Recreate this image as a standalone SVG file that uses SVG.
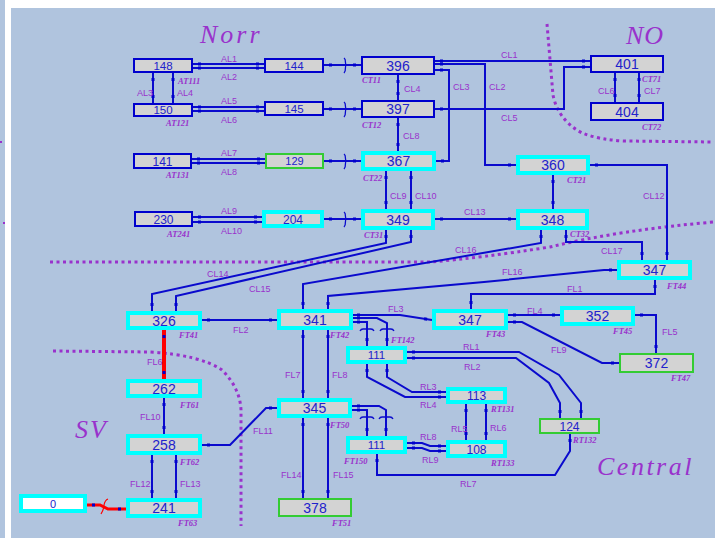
<svg xmlns="http://www.w3.org/2000/svg" width="726" height="538" viewBox="0 0 726 538">
<style>
.ln{fill:none;stroke:#0a0acd;stroke-width:2;marker-start:url(#m);marker-end:url(#m)}
.red{fill:none;stroke:#ff0000;stroke-width:4;marker-start:url(#m);marker-end:url(#m)}
.sw{fill:none;stroke:#0a0acd;stroke-width:1.3}
.nb{fill:#d3d3d3;stroke:#0000cd;stroke-width:2}
.nc{fill:#d3d3d3;stroke:#00ffff;stroke-width:4}
.ng{fill:#d3d3d3;stroke:#33cc33;stroke-width:2}
.t{font-family:"Liberation Sans",Arial,sans-serif;fill:#2222cc;text-anchor:middle}
.lb{font-family:"Liberation Sans",Arial,sans-serif;font-size:9px;fill:#9932cc}
.tag{font-family:"Liberation Serif","Times New Roman",serif;font-size:8.5px;font-weight:bold;font-style:italic;fill:#9932cc}
.reg{font-family:"Liberation Serif","Times New Roman",serif;font-size:26px;font-style:italic;fill:#9932cc}
.dot{fill:none;stroke:#9932cc;stroke-width:3;stroke-dasharray:3 3.5}
</style>
<defs>
<marker id="m" markerUnits="userSpaceOnUse" viewBox="0 0 12 4" markerWidth="12" markerHeight="4" refX="12" refY="2" orient="auto-start-reverse"><rect x="4" y="0.5" width="3" height="3" fill="#0000cd"/></marker>
</defs>
<rect x="0" y="0" width="726" height="538" fill="#ffffff"/>
<rect x="0" y="0" width="5" height="538" fill="#b0c4de"/>
<rect x="11" y="8" width="704" height="530" fill="#b0c4de"/>
<rect x="0" y="141" width="2" height="2" fill="#9932cc"/>
<rect x="3" y="222" width="2" height="2" fill="#9932cc"/>

<g id="regions">
<path class="dot" d="M547,24 L553,95 Q558,120 582,133 Q600,140 625,141 L714,142"/>
<path class="dot" d="M50,262 L430,262 Q480,258 550,247 Q620,230 714,222"/>
<path class="dot" d="M53,351 L150,352 Q200,355 222,370 Q240,388 241,410 L241,526"/>
<text class="reg" x="200" y="43" letter-spacing="3">Norr</text>
<text class="reg" x="626" y="44" letter-spacing="1">NO</text>
<text class="reg" x="75" y="438" letter-spacing="2">SV</text>
<text class="reg" x="597" y="475" letter-spacing="2.5">Central</text>
</g>

<g id="connectors">
<path class="ln" d="M193,64 H264"/>
<path class="ln" d="M193,68 H264"/>
<path class="ln" d="M153,73 V103"/>
<path class="ln" d="M173,73 V103"/>
<path class="ln" d="M193,107 H264"/>
<path class="ln" d="M193,111 H264"/>
<path class="ln" d="M192,159 H265"/>
<path class="ln" d="M192,163 H265"/>
<path class="ln" d="M193,217 H262"/>
<path class="ln" d="M193,222 H262"/>
<path class="ln" d="M324,65 H361"/>
<path class="ln" d="M324,109 H361"/>
<path class="ln" d="M324,161 H361"/>
<path class="ln" d="M324,219 H361"/>
<path class="sw" d="M344,58 C347,60 344,64 346.5,65 C344,66 347,70 344,73"/>
<path class="sw" d="M344,102 C347,104 344,108 346.5,109 C344,110 347,114 344,117"/>
<path class="sw" d="M344,154 C347,156 344,160 346.5,161 C344,162 347,166 344,169"/>
<path class="sw" d="M344,212 C347,214 344,218 346.5,219 C344,220 347,224 344,227"/>
<path class="ln" d="M435,61 H590"/>
<path class="ln" d="M435,64 H485 V165 H516"/>
<path class="ln" d="M435,70 H449 V161 H436"/>
<path class="ln" d="M398,75 V100"/>
<path class="ln" d="M435,109 H564 V67 H590"/>
<path class="ln" d="M615,73 V102"/>
<path class="ln" d="M639,73 V102"/>
<path class="ln" d="M398,118 V151"/>
<path class="ln" d="M386,171 V209"/>
<path class="ln" d="M411,171 V209"/>
<path class="ln" d="M435,219 H516"/>
<path class="ln" d="M553,175 V209"/>
<path class="ln" d="M590,165 H667 V260"/>
<path class="ln" d="M566,230 V242 H642 V260"/>
<path class="ln" d="M541,230 V243 L303,284 V310"/>
<path class="ln" d="M386,230 V243 L152,294 V311"/>
<path class="ln" d="M411,230 V242 L176,296 V311"/>
<path class="ln" d="M617,270 H604 L484,282 L328,296 V310"/>
<path class="ln" d="M655,280 V294 H471 V309"/>
<path class="ln" d="M202,320 H277"/>
<path class="ln" d="M352,315 H400 L432,320"/>
<path class="ln" d="M352,318 H377 L387,323 V346"/>
<path class="ln" d="M352,322 H367 V346"/>
<path class="sw" d="M360,331 Q361,329 363,329 L371,329 Q373,329 374,331"/>
<path class="sw" d="M380,331 Q381,329 383,329 L391,329 Q393,329 394,331"/>
<path class="ln" d="M407,352 H519 L559,375 L581,403 V418"/>
<path class="ln" d="M407,358 H516 L549,383 L560,403 V418"/>
<path class="ln" d="M367,364 V377 L405,397 H446"/>
<path class="ln" d="M387,364 V377 L412,392 H446"/>
<path class="ln" d="M466,404 V440"/>
<path class="ln" d="M486,404 V440"/>
<path class="ln" d="M303,330 V398"/>
<path class="ln" d="M328,330 V398"/>
<path class="ln" d="M352,406 H379 L386,410 V436"/>
<path class="ln" d="M352,410 H367 V436"/>
<path class="sw" d="M360,419 Q361,417 363,417 L371,417 Q373,417 374,419"/>
<path class="sw" d="M379,419 Q380,417 382,417 L390,417 Q392,417 393,419"/>
<path class="ln" d="M407,443 H422 L430,446 H446"/>
<path class="ln" d="M407,448 H422 L430,451 H446"/>
<path class="ln" d="M377,454 V475 H555 L570,451 V434"/>
<path class="ln" d="M303,418 V498"/>
<path class="ln" d="M328,418 V498"/>
<path class="ln" d="M277,408 H266 L230,445 H202"/>
<path class="red" d="M164,330 V379"/>
<path class="ln" d="M164,398 V434"/>
<path class="ln" d="M152,455 V498"/>
<path class="ln" d="M176,455 V498"/>
<path class="ln" d="M508,315 H560"/>
<path class="ln" d="M508,322 H522 L602,363 H619"/>
<path class="ln" d="M635,315 H656 V353"/>
<path fill="none" stroke="#ff0000" stroke-width="3" d="M87,505 H100 L108,509 H126"/>
<path fill="none" stroke="#ff0000" stroke-width="1.2" d="M101,514 Q104,509 104,505 Q105,500 108,499"/>
<rect x="92" y="503.5" width="3" height="3" fill="#0000cd"/>
<rect x="118" y="507.5" width="3" height="3" fill="#0000cd"/>
</g>

<g id="labels">
<text class="lb" x="221" y="62">AL1</text>
<text class="lb" x="221" y="80">AL2</text>
<text class="lb" x="137" y="96">AL3</text>
<text class="lb" x="177" y="96">AL4</text>
<text class="lb" x="221" y="104">AL5</text>
<text class="lb" x="221" y="123">AL6</text>
<text class="lb" x="221" y="156">AL7</text>
<text class="lb" x="221" y="175">AL8</text>
<text class="lb" x="221" y="214">AL9</text>
<text class="lb" x="221" y="234">AL10</text>
<text class="lb" x="501" y="58">CL1</text>
<text class="lb" x="489" y="90">CL2</text>
<text class="lb" x="453" y="90">CL3</text>
<text class="lb" x="404" y="92">CL4</text>
<text class="lb" x="501" y="121">CL5</text>
<text class="lb" x="598" y="94">CL6</text>
<text class="lb" x="644" y="94">CL7</text>
<text class="lb" x="403" y="139">CL8</text>
<text class="lb" x="390" y="199">CL9</text>
<text class="lb" x="415" y="199">CL10</text>
<text class="lb" x="643" y="199">CL12</text>
<text class="lb" x="464" y="215">CL13</text>
<text class="lb" x="207" y="277">CL14</text>
<text class="lb" x="249" y="292">CL15</text>
<text class="lb" x="455" y="253">CL16</text>
<text class="lb" x="601" y="254">CL17</text>
<text class="lb" x="502" y="275">FL16</text>
<text class="lb" x="567" y="292">FL1</text>
<text class="lb" x="233" y="333">FL2</text>
<text class="lb" x="388" y="312">FL3</text>
<text class="lb" x="527" y="314">FL4</text>
<text class="lb" x="662" y="335">FL5</text>
<text class="lb" x="147" y="365">FL6</text>
<text class="lb" x="285" y="378">FL7</text>
<text class="lb" x="332" y="378">FL8</text>
<text class="lb" x="551" y="353">FL9</text>
<text class="lb" x="140" y="420">FL10</text>
<text class="lb" x="253" y="434">FL11</text>
<text class="lb" x="130" y="487">FL12</text>
<text class="lb" x="180" y="487">FL13</text>
<text class="lb" x="281" y="478">FL14</text>
<text class="lb" x="333" y="478">FL15</text>
<text class="lb" x="463" y="350">RL1</text>
<text class="lb" x="464" y="370">RL2</text>
<text class="lb" x="420" y="390">RL3</text>
<text class="lb" x="420" y="408">RL4</text>
<text class="lb" x="451" y="432">RL5</text>
<text class="lb" x="490" y="431">RL6</text>
<text class="lb" x="460" y="487">RL7</text>
<text class="lb" x="420" y="440">RL8</text>
<text class="lb" x="422" y="463">RL9</text>
</g>

<g id="n148"><rect class="nb" x="134" y="59" width="58" height="13"/><text class="t" x="163" y="69.5" font-size="11.5">148</text><text class="tag" x="178" y="84">AT111</text></g>
<g id="n150"><rect class="nb" x="134" y="104" width="58" height="12"/><text class="t" x="163" y="114" font-size="11.5">150</text><text class="tag" x="166" y="126">AT121</text></g>
<g id="n144"><rect class="nb" x="265" y="59" width="58" height="13"/><text class="t" x="294" y="69.5" font-size="11.5">144</text></g>
<g id="n145"><rect class="nb" x="265" y="102" width="58" height="13"/><text class="t" x="294" y="112.5" font-size="11.5">145</text></g>
<g id="n396"><rect class="nb" x="362" y="57" width="72" height="17"/><text class="t" x="398" y="70.5" font-size="14">396</text><text class="tag" x="362" y="83">CT11</text></g>
<g id="n397"><rect class="nb" x="362" y="101" width="72" height="16"/><text class="t" x="398" y="114" font-size="14">397</text><text class="tag" x="362" y="128">CT12</text></g>
<g id="n401"><rect class="nb" x="591" y="56" width="72" height="16"/><text class="t" x="627" y="69" font-size="14">401</text><text class="tag" x="642" y="82">CT71</text></g>
<g id="n404"><rect class="nb" x="591" y="103" width="72" height="17"/><text class="t" x="627" y="116.5" font-size="14">404</text><text class="tag" x="642" y="130">CT72</text></g>
<g id="n141"><rect class="nb" x="134" y="154" width="57" height="14"/><text class="t" x="162.5" y="165.5" font-size="12">141</text><text class="tag" x="166" y="178">AT131</text></g>
<g id="n230"><rect class="nb" x="135" y="212" width="57" height="14"/><text class="t" x="163.5" y="223.5" font-size="12">230</text><text class="tag" x="167" y="237">AT241</text></g>
<g id="n129"><rect class="ng" x="266" y="154" width="57" height="14"/><text class="t" x="294.5" y="165" font-size="11">129</text></g>
<g id="n367"><rect class="nc" x="363" y="153" width="71" height="16"/><text class="t" x="398.5" y="166" font-size="14">367</text><text class="tag" x="363" y="181">CT22</text></g>
<g id="n204"><rect class="nc" x="264" y="212" width="58" height="14"/><text class="t" x="293" y="223.5" font-size="12">204</text></g>
<g id="n349"><rect class="nc" x="363" y="211" width="70" height="17"/><text class="t" x="398" y="224.5" font-size="14">349</text><text class="tag" x="364" y="238">CT31</text></g>
<g id="n360"><rect class="nc" x="518" y="157" width="70" height="16"/><text class="t" x="553" y="170" font-size="14">360</text><text class="tag" x="567" y="183">CT21</text></g>
<g id="n348"><rect class="nc" x="518" y="211" width="69" height="17"/><text class="t" x="552.5" y="224.5" font-size="14">348</text><text class="tag" x="570" y="237">CT32</text></g>
<g id="n347a"><rect class="nc" x="619" y="262" width="71" height="16"/><text class="t" x="654.5" y="275" font-size="14">347</text><text class="tag" x="667" y="289">FT44</text></g>
<g id="n326"><rect class="nc" x="128" y="313" width="72" height="15"/><text class="t" x="164" y="325.5" font-size="14">326</text><text class="tag" x="179" y="338">FT41</text></g>
<g id="n262"><rect class="nc" x="128" y="381" width="72" height="15"/><text class="t" x="164" y="393.5" font-size="14">262</text><text class="tag" x="180" y="408">FT61</text></g>
<g id="n341"><rect class="nc" x="279" y="311" width="72" height="17"/><text class="t" x="315" y="324.5" font-size="14">341</text><text class="tag" x="330" y="338">FT42</text></g>
<g id="n347b"><rect class="nc" x="434" y="311" width="72" height="17"/><text class="t" x="470" y="324.5" font-size="14">347</text><text class="tag" x="486" y="337">FT43</text></g>
<g id="n352"><rect class="nc" x="562" y="308" width="71" height="16"/><text class="t" x="597.5" y="321" font-size="14">352</text><text class="tag" x="613" y="334">FT45</text></g>
<g id="n372"><rect class="ng" x="620" y="354" width="73" height="18"/><text class="t" x="656.5" y="368" font-size="14">372</text><text class="tag" x="671" y="381">FT47</text></g>
<g id="n111a"><rect class="nc" x="348" y="348" width="57" height="14"/><text class="t" x="376.5" y="359" font-size="11.5">111</text><text class="tag" x="391" y="343">FT142</text></g>
<g id="n113"><rect class="nc" x="448" y="389" width="57" height="13"/><text class="t" x="476.5" y="400" font-size="12">113</text><text class="tag" x="491" y="412">RT131</text></g>
<g id="n345"><rect class="nc" x="279" y="400" width="71" height="16"/><text class="t" x="314.5" y="413" font-size="14">345</text><text class="tag" x="330" y="428">FT50</text></g>
<g id="n111b"><rect class="nc" x="348" y="438" width="57" height="14"/><text class="t" x="376.5" y="449" font-size="11.5">111</text><text class="tag" x="344" y="464">FT150</text></g>
<g id="n108"><rect class="nc" x="448" y="442" width="57" height="14"/><text class="t" x="476.5" y="453.5" font-size="12">108</text><text class="tag" x="491" y="466">RT133</text></g>
<g id="n124"><rect class="ng" x="540" y="419" width="59" height="14"/><text class="t" x="569.5" y="430.5" font-size="12">124</text><text class="tag" x="573" y="443">RT132</text></g>
<g id="n258"><rect class="nc" x="128" y="436" width="72" height="17"/><text class="t" x="164" y="449.5" font-size="14">258</text><text class="tag" x="180" y="465">FT62</text></g>
<g id="n241"><rect class="nc" x="128" y="500" width="72" height="16"/><text class="t" x="164" y="513" font-size="14">241</text><text class="tag" x="178" y="526">FT63</text></g>
<g id="n378"><rect class="ng" x="279" y="499" width="72" height="17"/><text class="t" x="315" y="512.5" font-size="14">378</text><text class="tag" x="332" y="526">FT51</text></g>
<g id="n0"><rect x="21" y="496" width="64" height="15" fill="#ffffff" stroke="#00ffff" stroke-width="4"/><text class="t" x="53" y="507.5" font-size="11">0</text></g>
</svg>
